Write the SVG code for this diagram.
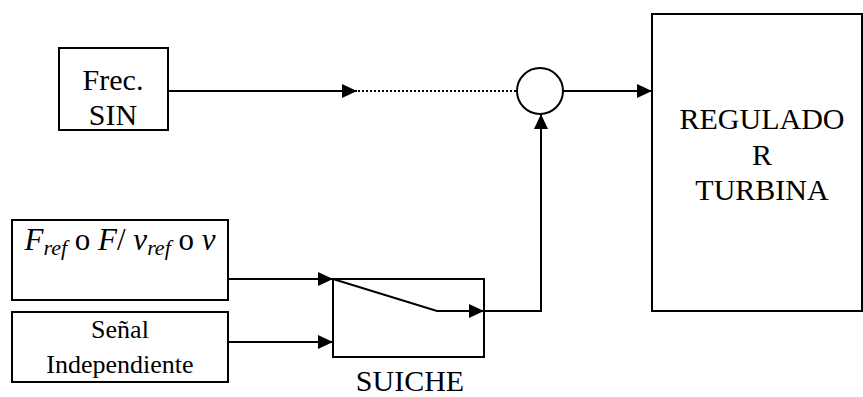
<svg xmlns="http://www.w3.org/2000/svg" width="863" height="397" viewBox="0 0 863 397">
<style>
.box{fill:#fff;stroke:#000;stroke-width:2}
.ln{fill:none;stroke:#000;stroke-width:2}
.dot{fill:none;stroke:#000;stroke-width:2;stroke-dasharray:2 2}
text{font-family:"Liberation Serif",Tinos,"Times New Roman",Times,"Noto Serif","DejaVu Serif",serif;fill:#000;text-anchor:middle}
</style>
<defs>
<marker id="ah" markerUnits="userSpaceOnUse" markerWidth="16" markerHeight="14" refX="15" refY="7" orient="auto">
<path d="M0,0 L15,7 L0,14 z" fill="#000"/>
</marker>
</defs>
<rect width="863" height="397" fill="#fff"/>
<g id="frec">
<rect class="box" x="59" y="48" width="109" height="82"/>
<text font-family="Liberation Serif, serif" font-size="30" x="113" y="90">Frec.</text>
<text font-family="Liberation Serif, serif" font-size="30" x="113" y="125">SIN</text>
</g>
<g id="sum">
<circle class="box" cx="540" cy="91" r="23"/>
</g>
<g id="regulador">
<rect class="box" x="652" y="14" width="210" height="297"/>
<text font-family="Liberation Serif, serif" font-size="30" x="762" y="129">REGULADO</text>
<text font-family="Liberation Serif, serif" font-size="30" x="762" y="165">R</text>
<text font-family="Liberation Serif, serif" font-size="30" x="762" y="200">TURBINA</text>
</g>
<g id="fref">
<rect class="box" x="12" y="220" width="216" height="80"/>
<text font-family="Liberation Serif, serif" font-size="31" x="120" y="250"><tspan font-style="italic">F</tspan><tspan font-style="italic" font-size="22" dy="5">ref</tspan><tspan dy="-5"> o </tspan><tspan font-style="italic">F</tspan>/ <tspan font-style="italic">v</tspan><tspan font-style="italic" font-size="22" dy="5">ref</tspan><tspan dy="-5"> o </tspan><tspan font-style="italic">v</tspan></text>
</g>
<g id="senal">
<rect class="box" x="12" y="312" width="216" height="70"/>
<text font-family="Liberation Serif, serif" font-size="26" x="120" y="338">Señal</text>
<text font-family="Liberation Serif, serif" font-size="26" x="120" y="373">Independiente</text>
</g>
<g id="suiche">
<rect class="box" x="333" y="279" width="151" height="78"/>
<text font-family="Liberation Serif, serif" font-size="30" x="410" y="391">SUICHE</text>
</g>
<g id="connectors">
<line class="ln" x1="168" y1="91" x2="357" y2="91" marker-end="url(#ah)"/>
<line class="dot" x1="358" y1="91" x2="517" y2="91"/>
<line class="ln" x1="563" y1="91" x2="652" y2="91" marker-end="url(#ah)"/>
<line class="ln" x1="228" y1="279" x2="333" y2="279" marker-end="url(#ah)"/>
<line class="ln" x1="228" y1="342" x2="333" y2="342" marker-end="url(#ah)"/>
<polyline class="ln" points="333,279 437,311 484,311" marker-end="url(#ah)"/>
<polyline class="ln" points="484,311 541,311 541,114" marker-end="url(#ah)"/>
</g>
</svg>
